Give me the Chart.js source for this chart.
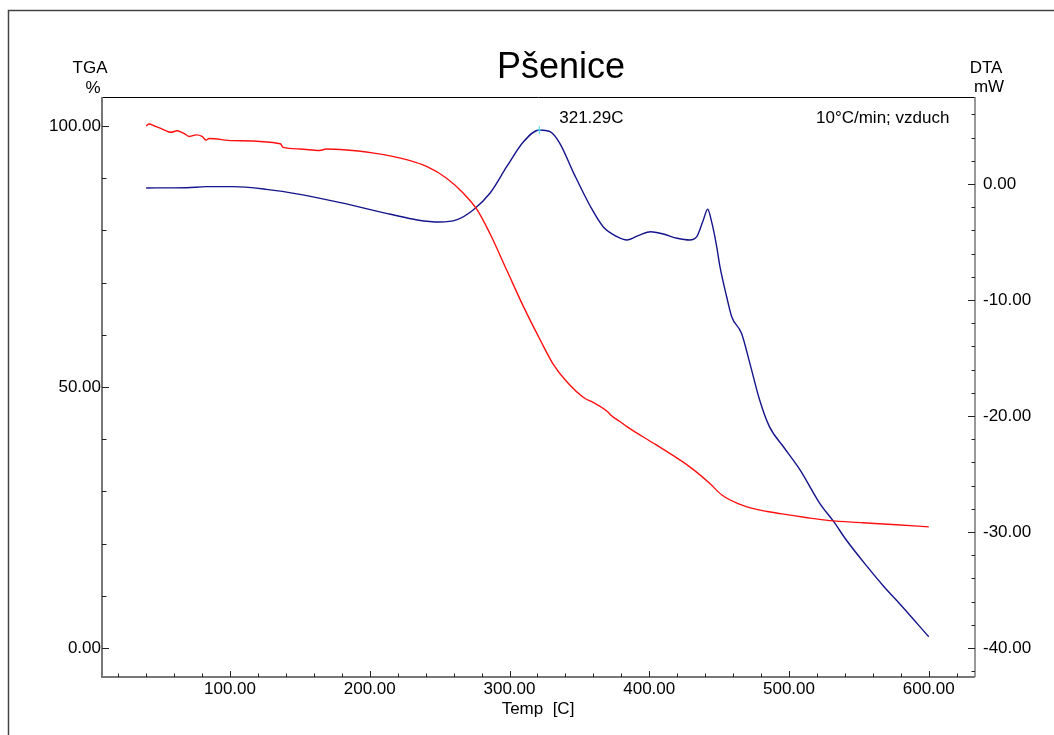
<!DOCTYPE html>
<html>
<head>
<meta charset="utf-8">
<title>Pšenice</title>
<script src="https://cdn.jsdelivr.net/npm/chart.js@4.4.1/dist/chart.umd.min.js"></script>
<style>
  html, body { margin: 0; padding: 0; background: #fff; }
  canvas { display: block; }
</style>
</head>
<body>
<canvas id="taCanvas" width="1054" height="735"></canvas>
<script>
// TGA mass (%) vs temperature
const tgaTemp = [40, 42, 46, 50, 58, 62, 67, 71, 76, 80, 83, 85, 102, 136, 138, 150, 164, 169, 179, 203,
    227, 241, 255, 267, 277, 286, 298, 310, 322, 331, 341, 354, 358, 370, 373, 379, 384, 405, 429, 443,
    452, 464, 476, 495, 512, 529, 553, 577, 600];
const tgaMass = [100.0, 100.4, 100.0, 99.6, 98.8, 99.1, 98.6, 98.0, 98.3, 98.0, 97.3, 97.6, 97.2, 96.6, 95.9, 95.6, 95.3, 95.6, 95.5, 94.8,
    93.5, 92.2, 90.0, 87.1, 83.9, 79.4, 72.4, 65.4, 59.0, 54.5, 51.0, 47.8, 47.3, 45.3, 44.5, 43.4, 42.4, 38.9, 34.7, 31.6,
    29.3, 27.6, 26.6, 25.7, 25.0, 24.4, 24.0, 23.6, 23.2];

// DTA signal (mW) vs temperature
const dtaTemp = [40, 69, 83, 102, 126, 150, 179, 215, 234, 250, 262, 274, 286, 298, 310, 321.29, 329, 336, 346,
    358, 367, 377, 384, 393, 401, 410, 420, 429, 434, 438.7, 441.8, 444.7, 448.3, 450.6, 455.4, 459, 466, 472, 479,
    486, 496, 508, 522, 532, 541, 556, 568, 580, 600];
const dtaSignal = [-0.34, -0.32, -0.23, -0.23, -0.46, -0.89, -1.61, -2.61, -3.10, -3.28, -3.10, -2.24, -0.80, 1.49, 3.65, 4.66, 4.51, 3.51, 0.92,
    -1.96, -3.68, -4.54, -4.83, -4.40, -4.11, -4.31, -4.68, -4.83, -4.54, -3.10, -2.18, -3.28, -5.41, -7.13, -9.72, -11.44, -12.87, -15.46, -18.62,
    -20.92, -22.65, -24.66, -27.53, -29.11, -30.69, -32.99, -34.72, -36.29, -39.03];

const peakTemp = 321.29;

// labelled ticks
const tempTicks = [100, 200, 300, 400, 500, 600];
const tgaTicks = [0, 50, 100];
const dtaTicks = [0, -10, -20, -30, -40];

// unlabelled minor ticks
const tempMinor = [];
for (let t = 20; t <= 620; t += 20) tempMinor.push(t);
const tgaMinor = [0, 10, 20, 30, 40, 50, 60, 70, 80, 90, 100];
const dtaMinor = [];
for (let v = 6; v >= -42; v -= 2) dtaMinor.push(v);

const FONT = "'Liberation Sans', Arial, sans-serif";
Chart.defaults.font.family = FONT;
Chart.defaults.font.size = 17;
Chart.defaults.color = "#000";

const fixedTicks = list => scale => { scale.ticks = list.map(v => ({ value: v })); };

const decorations = {
    id: "decorations",
    beforeDraw(chart) {
        const ctx = chart.ctx;
        ctx.save();
        ctx.fillStyle = "#fff";
        ctx.fillRect(0, 0, chart.width, chart.height);
        ctx.restore();
    },
    afterDraw(chart) {
        const ctx = chart.ctx;
        const a = chart.chartArea;
        const x = chart.scales.x, yl = chart.scales.yTGA, yr = chart.scales.yDTA;
        ctx.save();

        // outer frame
        ctx.strokeStyle = "#444";
        ctx.lineWidth = 1.5;
        ctx.beginPath();
        ctx.moveTo(8.5, chart.height);
        ctx.lineTo(8.5, 10.5);
        ctx.lineTo(chart.width, 10.5);
        ctx.stroke();

        // plot box
        ctx.strokeStyle = "#000";
        ctx.lineWidth = 1;
        ctx.beginPath();
        ctx.moveTo(a.left, a.top + 0.5);
        ctx.lineTo(a.right, a.top + 0.5);
        ctx.stroke();
        ctx.strokeStyle = "#777";
        ctx.lineWidth = 2;
        ctx.beginPath();
        ctx.moveTo(a.left, a.top);
        ctx.lineTo(a.left, a.bottom);
        ctx.lineTo(a.right, a.bottom);
        ctx.stroke();
        ctx.lineWidth = 1.5;
        ctx.beginPath();
        ctx.moveTo(a.right, a.top);
        ctx.lineTo(a.right, a.bottom);
        ctx.stroke();

        // tick marks, pointing into the plot
        ctx.strokeStyle = "#222";
        ctx.lineWidth = 1;
        ctx.beginPath();
        tempMinor.forEach(t => {
            const px = Math.round(x.getPixelForValue(t)) + 0.5;
            const len = t % 100 === 0 ? 6 : 3.5;
            ctx.moveTo(px, a.bottom);
            ctx.lineTo(px, a.bottom - len);
        });
        tgaMinor.forEach(v => {
            const py = Math.round(yl.getPixelForValue(v)) + 0.5;
            const len = v % 50 === 0 ? 7 : 4.5;
            ctx.moveTo(a.left, py);
            ctx.lineTo(a.left + len, py);
        });
        dtaMinor.forEach(v => {
            const py = Math.round(yr.getPixelForValue(v)) + 0.5;
            const len = v % 10 === 0 ? 7 : 3.5;
            ctx.moveTo(a.right, py);
            ctx.lineTo(a.right - len, py);
        });
        ctx.stroke();

        // peak marker on the DTA curve
        const peakIdx = dtaTemp.indexOf(peakTemp);
        const mx = x.getPixelForValue(peakTemp);
        const my = yr.getPixelForValue(dtaSignal[peakIdx]);
        ctx.strokeStyle = "#4fd8f0";
        ctx.lineWidth = 1;
        ctx.beginPath();
        ctx.moveTo(mx, my - 4);
        ctx.lineTo(mx, my + 4);
        ctx.moveTo(mx - 2, my);
        ctx.lineTo(mx + 2, my);
        ctx.stroke();

        // texts
        ctx.fillStyle = "#000";
        ctx.textBaseline = "alphabetic";
        ctx.font = "36px " + FONT;
        ctx.textAlign = "center";
        ctx.fillText("Pšenice", 561, 78);

        ctx.font = "17px " + FONT;
        ctx.fillText("TGA", 90, 73);
        ctx.fillText("%", 93, 93);
        ctx.fillText("DTA", 986, 73);
        ctx.fillText("mW", 989, 92);
        ctx.fillText("Temp  [C]", 538, 714);

        ctx.textAlign = "left";
        ctx.fillText(peakTemp.toFixed(2) + "C", mx + 20, 123);
        ctx.fillText("10°C/min; vzduch", 816, 123);

        ctx.restore();
    }
};

new Chart(document.getElementById("taCanvas"), {
    type: "line",
    data: {
        datasets: [{
            label: "TGA",
            data: tgaTemp.map((t, i) => ({ x: t, y: tgaMass[i] })),
            yAxisID: "yTGA",
            borderColor: "#ff1010",
            borderWidth: 1.4,
            pointRadius: 0,
            cubicInterpolationMode: "monotone"
        }, {
            label: "DTA",
            data: dtaTemp.map((t, i) => ({ x: t, y: dtaSignal[i] })),
            yAxisID: "yDTA",
            borderColor: "#14148c",
            borderWidth: 1.4,
            pointRadius: 0,
            cubicInterpolationMode: "monotone"
        }]
    },
    options: {
        responsive: false,
        animation: false,
        devicePixelRatio: 1,
        layout: { padding: { top: 97, left: 0, right: 0, bottom: 0 } },
        plugins: { legend: { display: false }, tooltip: { enabled: false } },
        scales: {
            x: {
                type: "linear",
                min: 8.4,
                max: 633.1,
                grid: { display: false, drawTicks: false },
                border: { display: false },
                afterBuildTicks: fixedTicks(tempTicks),
                afterFit: s => { s.height = 58; },
                ticks: { padding: 2, maxRotation: 0, callback: v => v.toFixed(2) }
            },
            yTGA: {
                type: "linear",
                position: "left",
                min: -5.56,
                max: 105.56,
                grid: { display: false, drawTicks: false },
                border: { display: false },
                afterBuildTicks: fixedTicks(tgaTicks),
                afterFit: s => { s.width = 102; },
                ticks: { padding: 1, callback: v => v.toFixed(2) }
            },
            yDTA: {
                type: "linear",
                position: "right",
                min: -42.5,
                max: 7.5,
                grid: { display: false, drawTicks: false },
                border: { display: false },
                afterBuildTicks: fixedTicks(dtaTicks),
                afterFit: s => { s.width = 79; },
                ticks: { padding: 8, callback: v => v.toFixed(2) }
            }
        }
    },
    plugins: [decorations]
});
</script>
</body>
</html>
